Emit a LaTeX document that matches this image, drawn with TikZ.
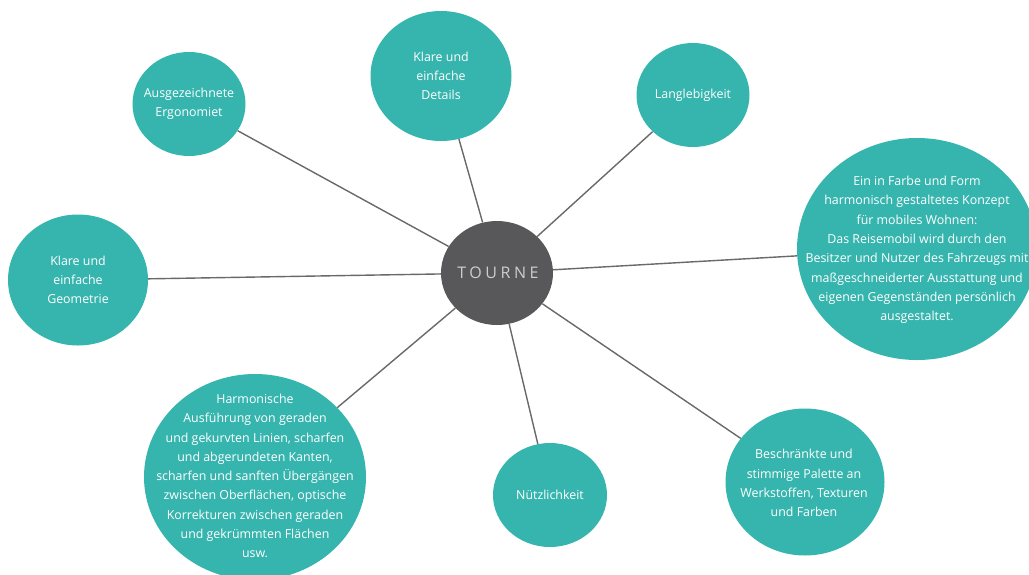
\documentclass[tikz,border=0pt]{standalone}
\usepackage{fontspec}
\setmainfont{Open Sans}
\newfontfamily\hubfont[LetterSpace=22]{Open Sans}
\usetikzlibrary{shapes.geometric}
\definecolor{bubblecol}{RGB}{54,181,174}
\definecolor{hubcol}{RGB}{88,88,90}
\definecolor{linkcol}{RGB}{105,105,105}
\definecolor{hubtext}{RGB}{205,205,205}
\begin{document}
\begin{tikzpicture}[x=1pt,y=-1pt,
    bubble/.style={ellipse, fill=bubblecol, inner sep=0pt},
    bubbletext/.style={text=white, align=center, inner sep=0pt,
        font=\fontsize{12.4}{19.3}\selectfont},
    link/.style={draw=linkcol, line width=1.4pt}]
    \useasboundingbox (0,0) rectangle (1029,574);
    % centre
    \node[ellipse, fill=hubcol, inner sep=0pt, minimum width=112, minimum height=104] (tourne) at (497,273) {};
    \node[text=hubtext, inner sep=0pt, font=\hubfont\fontsize{16}{18}\selectfont] (tourne text) at (498,273) {TOURNE};
    % the ideas around it
    \node[bubble, minimum width=113, minimum height=104] (ergo) at (189,104) {};
    \node[bubbletext] (ergo text) at (ergo) {Ausgezeichnete\\Ergonomiet};
    \node[bubble, minimum width=141, minimum height=130] (details) at (441,76) {};
    \node[bubbletext] (details text) at (details) {Klare und\\einfache\\Details};
    \node[bubble, minimum width=113, minimum height=104] (lang) at (693,95) {};
    \node[bubbletext] (lang text) at (lang) {Langlebigkeit};
    \node[bubble, minimum width=240, minimum height=222] (konzept) at (917,249) {};
    \node[bubbletext] (konzept text) at (917,250) {Ein in Farbe und Form\\harmonisch gestaltetes Konzept\\f\"ur mobiles Wohnen:\\Das Reisemobil wird durch den\\Besitzer und Nutzer des Fahrzeugs mit\\ma\ss geschneiderter Ausstattung und\\eigenen Gegenst\"anden pers\"onlich\\ausgestaltet.};
    \node[bubble, minimum width=140, minimum height=131] (geo) at (78,280) {};
    \node[bubbletext] (geo text) at (geo) {Klare und\\einfache\\Geometrie};
    \node[bubble, minimum width=222, minimum height=206] (harm) at (255,477) {};
    \node[bubbletext] (harm text) at (255,476) {Harmonische\\Ausf\"uhrung von geraden\\und gekurvten Linien, scharfen\\und abgerundeten Kanten,\\scharfen und sanften \"Uberg\"angen\\zwischen Oberfl\"achen, optische\\Korrekturen zwischen geraden\\und gekr\"ummten Fl\"achen\\usw.};
    \node[bubble, minimum width=114, minimum height=104] (nutz) at (550,495) {};
    \node[bubbletext] (nutz text) at (nutz) {N\"utzlichkeit};
    \node[bubble, minimum width=159, minimum height=147] (palette) at (805,482) {};
    \node[bubbletext] (palette text) at (804,483) {Beschr\"ankte und\\stimmige Palette an\\Werkstoffen, Texturen\\und Farben};
    % spokes
    \foreach \n in {ergo,details,lang,konzept,geo,harm,nutz,palette}
        \draw[link] (tourne) -- (\n);
\end{tikzpicture}
\end{document}
